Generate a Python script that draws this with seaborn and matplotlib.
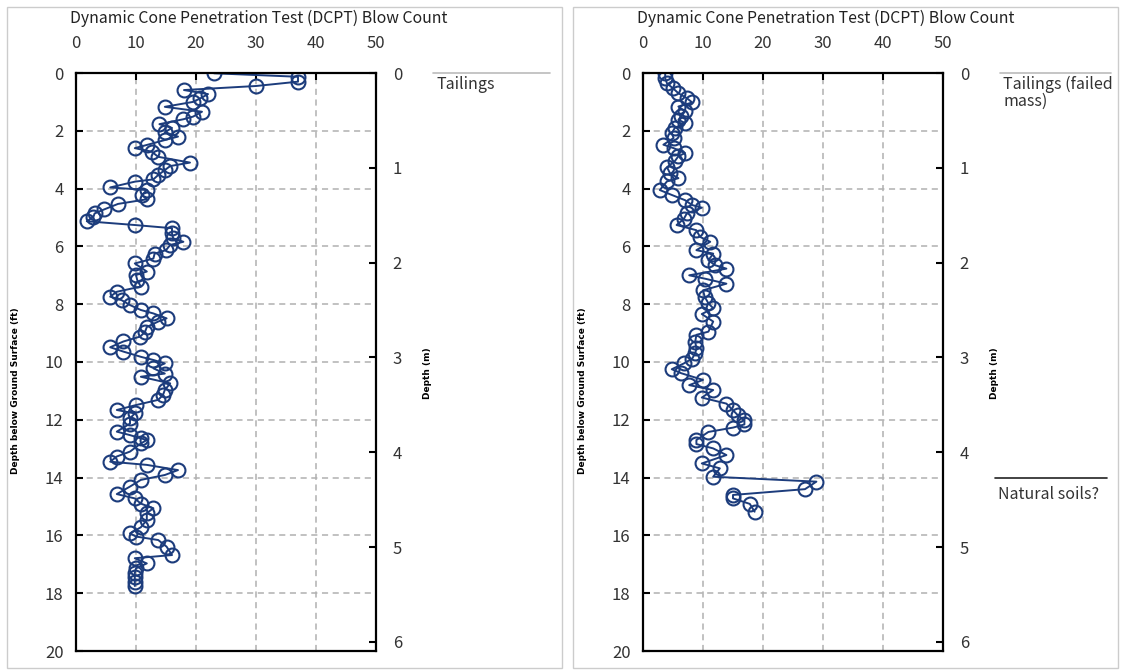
import matplotlib
matplotlib.use("Agg")
import matplotlib.pyplot as plt
import matplotlib.transforms as mtransforms
from matplotlib.patches import Rectangle
import seaborn as sns

# DCPT profile 1 (left panel): depth (ft) and blow count
left_depth_ft = [0.01, 0.13, 0.30, 0.45, 0.59, 0.73, 0.88, 1.00, 1.17, 1.34, 1.51, 1.60,
                 1.77, 1.90, 2.05, 2.20, 2.32, 2.49, 2.60, 2.72, 2.90, 3.10, 3.22, 3.36,
                 3.53, 3.68, 3.76, 3.96, 4.05, 4.22, 4.37, 4.53, 4.72, 4.86, 4.98, 5.13,
                 5.26, 5.37, 5.55, 5.72, 5.84, 5.95, 6.13, 6.25, 6.42, 6.59, 6.87, 6.99,
                 7.16, 7.39, 7.57, 7.74, 7.86, 8.03, 8.20, 8.32, 8.49, 8.60, 8.79, 8.96,
                 9.12, 9.29, 9.49, 9.64, 9.82, 9.93, 10.05, 10.22, 10.40, 10.51, 10.74, 10.97,
                 11.14, 11.31, 11.49, 11.66, 11.78, 11.95, 12.13, 12.41, 12.53, 12.64, 12.70, 12.82,
                 13.10, 13.27, 13.45, 13.56, 13.74, 13.91, 14.08, 14.31, 14.57, 14.72, 14.90, 15.06,
                 15.23, 15.47, 15.72, 15.93, 16.04, 16.16, 16.39, 16.68, 16.79, 16.97, 17.14, 17.30,
                 17.45, 17.60, 17.75]
left_blows = [23, 37, 37, 30, 18, 22, 20.7, 19.5, 14.8, 21, 19.5, 17.9,
              13.9, 16, 14.8, 17, 14.8, 11.8, 9.8, 12.6, 13.7, 19, 15.7, 14.8,
              13.7, 12.9, 9.8, 5.7, 11.8, 11, 11.8, 7, 4.7, 3.1, 2.9, 1.8,
              9.8, 16, 16, 16.2, 17.9, 15.7, 15, 13.1, 12.9, 9.8, 11.8, 10,
              10.2, 10.8, 6.8, 5.7, 7.6, 9, 10.8, 12.9, 15.1, 13.7, 11.8, 11.5,
              10.7, 7.9, 5.7, 7.9, 10.8, 12.9, 14.8, 12.9, 14.8, 10.8, 15.7, 14.8,
              14.5, 13.7, 10, 6.8, 9.8, 9, 9, 6.8, 9, 10.8, 11.8, 10.8,
              9, 6.8, 5.7, 11.8, 17, 14.8, 10.8, 9, 6.8, 9.8, 10.8, 12.9,
              11.8, 11.8, 10.8, 9, 10, 13.7, 15.1, 16, 9.8, 11.8, 10, 9.8,
              9.8, 9.8, 9.8]

# DCPT profile 2 (right panel)
right_depth_ft = [0.01, 0.18, 0.36, 0.53, 0.70, 0.87, 1.02, 1.16, 1.33, 1.48, 1.62, 1.73,
                  1.90, 2.08, 2.25, 2.48, 2.60, 2.77, 2.88, 3.05, 3.26, 3.47, 3.64, 3.75,
                  4.05, 4.22, 4.40, 4.57, 4.66, 4.86, 5.05, 5.26, 5.44, 5.67, 5.84, 6.13,
                  6.25, 6.48, 6.65, 6.77, 7.00, 7.12, 7.29, 7.52, 7.75, 7.97, 8.14, 8.34,
                  8.60, 8.95, 9.06, 9.30, 9.53, 9.70, 9.88, 10.05, 10.25, 10.39, 10.62, 10.80,
                  10.97, 11.23, 11.44, 11.67, 11.84, 12.02, 12.16, 12.27, 12.42, 12.70, 12.84, 12.99,
                  13.22, 13.51, 13.68, 13.97, 14.14, 14.40, 14.60, 14.72, 14.91, 15.18]
right_blows = [3.7, 3.7, 4, 5, 5.9, 7.3, 8.2, 5.9, 7, 6.4, 5.9, 7,
               5.3, 4.8, 5.1, 3.4, 5.1, 7, 5.9, 5.3, 4, 4.5, 5.9, 4,
               2.8, 4.8, 7, 8.2, 9.8, 7.3, 6.8, 5.6, 8.9, 9.5, 11.2, 8.9,
               11.7, 10.9, 12, 13.9, 7.7, 10.4, 13.9, 10, 10.3, 10.9, 11.7, 9.8,
               11.7, 10.9, 8.9, 8.7, 8.9, 8.7, 8.2, 6.8, 4.8, 6.4, 10, 7.7,
               11.7, 9.8, 13.9, 15, 15.8, 16.9, 16.9, 15, 10.9, 8.9, 8.9, 11.7,
               13.9, 9.8, 12.8, 11.7, 28.9, 27, 15, 15, 17.8, 18.6]

x_ticks = [0, 10, 20, 30, 40, 50]
ft_ticks = [0, 2, 4, 6, 8, 10, 12, 14, 16, 18, 20]
m_ticks = [0, 1, 2, 3, 4, 5, 6]
x_title = "Dynamic Cone Penetration Test (DCPT) Blow Count"
ft_label = "Depth below Ground Surface (ft)"
m_label = "Depth (m)"

navy = "#1c3c7c"
txt = "#333333"

sns.set_theme(style="white")
plt.rcParams['font.family'] = ['Noto Sans CJK KR', 'DejaVu Sans']
label_font = ['DejaVu Sans']

fig = plt.figure(figsize=(11.22, 6.7), dpi=100)

# light frames around the two pasted panels
fig.patches.append(Rectangle((7 / 1122, 2 / 670), 555 / 1122, 661 / 670, transform=fig.transFigure,
                             fill=False, ec="#cccccc", lw=1))
fig.patches.append(Rectangle((573 / 1122, 2 / 670), 545 / 1122, 661 / 670, transform=fig.transFigure,
                             fill=False, ec="#cccccc", lw=1))


def draw_panel(left, depth, blows, notes):
    ax = fig.add_axes([left / 1122, 19 / 670, 300 / 1122, 578 / 670])
    sns.lineplot(x=blows, y=depth, sort=False, estimator=None, ax=ax, color=navy, lw=1.4,
                 marker="o", markersize=10, markerfacecolor="none",
                 markeredgecolor=navy, markeredgewidth=1.5)
    ax.set_xlim(0, 50)
    ax.set_ylim(20, 0)
    ax.set_xticks(x_ticks)
    ax.set_yticks(ft_ticks)
    ax.xaxis.tick_top()
    ax.set_xlabel("")
    ax.set_ylabel(ft_label, family=label_font, fontsize=6.5, weight="heavy", color="black")
    ax.yaxis.set_label_coords(-0.187, 0.45)
    ax.grid(True, color="#b0b0b0", ls=(0, (4, 3)), lw=1.1)
    for s in ax.spines.values():
        s.set_color("black")
        s.set_linewidth(1.6)
    ax.tick_params(axis="x", top=True, bottom=False, direction="in", length=5, width=1.5,
                   pad=15, labelsize=12, labelcolor=txt, color="black")
    ax.tick_params(axis="y", left=True, direction="in", length=5, width=1.5,
                   pad=9, labelsize=12, labelcolor=txt, color="black")
    ax.text(0.61, 1.095, x_title, transform=ax.transAxes, ha="center", va="center",
            fontsize=11.4, color="#222222")

    # depth in metres on the right
    ax2 = ax.twinx()
    ax2.set_ylim(20 * 0.3048, 0)
    ax2.set_yticks(m_ticks)
    ax2.tick_params(axis="y", right=True, direction="in", length=5, width=1.5,
                    pad=12, labelsize=12, labelcolor=txt, color="black")
    ax2.grid(False)
    ax2.set_ylabel(m_label, family=label_font, fontsize=6.5, weight="heavy", color="black")
    ax2.yaxis.set_label_coords(1.157, 0.48)
    for s in ax2.spines.values():
        s.set_visible(False)

    trans = mtransforms.blended_transform_factory(ax.transAxes, ax.transData)
    for y_line, x0, x1, col, label, y_txt in notes:
        ax.plot([x0, x1], [y_line, y_line], transform=trans, color=col, lw=1.2, clip_on=False)
        ax.text(x0 + 0.01, y_txt, label, transform=trans, ha="left", va="top",
                fontsize=11.5, color=txt, linespacing=0.95)
    return ax


draw_panel(76, left_depth_ft, left_blows,
           [(0.0, 1.19, 1.58, "#bbbbbb", "Tailings", 0.1)])
draw_panel(643, right_depth_ft, right_blows,
           [(0.0, 1.19, 1.56, "#bbbbbb", "Tailings (failed\nmass)", 0.1),
            (14.0, 1.173, 1.547, "#222222", "Natural soils?", 14.3)])

fig.savefig("out.png", dpi=100)
